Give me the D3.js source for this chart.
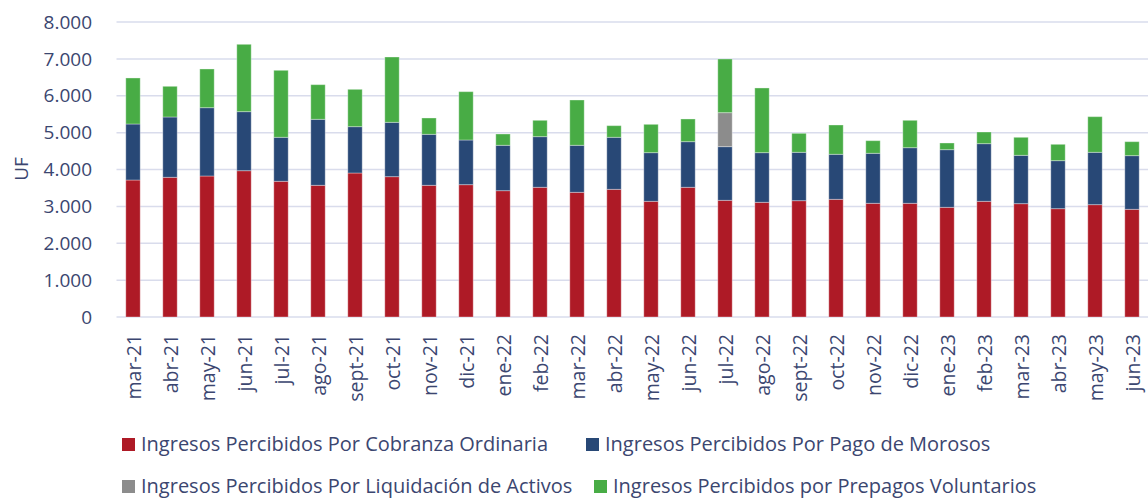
<!DOCTYPE html>
<html>
<head>
<meta charset="utf-8">
<script src="https://cdn.jsdelivr.net/npm/d3@7"></script>
<style>
  body { margin: 0; background: #fff; }
  #chart { width: 1148px; height: 499px; overflow: hidden; }
  text { font-family: "Open Sans", "Noto Sans", sans-serif; fill: #3b4670; }
</style>
</head>
<body>
<div id="chart"></div>
<script>
// Months on the x axis
const months = ['mar-21', 'abr-21', 'may-21', 'jun-21', 'jul-21', 'ago-21', 'sept-21', 'oct-21', 'nov-21', 'dic-21',
  'ene-22', 'feb-22', 'mar-22', 'abr-22', 'may-22', 'jun-22', 'jul-22', 'ago-22', 'sept-22', 'oct-22', 'nov-22', 'dic-22',
  'ene-23', 'feb-23', 'mar-23', 'abr-23', 'may-23', 'jun-23'];

// Series values (UF)
const cobranza = [3715, 3788, 3824, 3968, 3680, 3571, 3905, 3806, 3571, 3589,
  3426, 3517, 3381, 3462, 3137, 3517, 3164, 3110, 3155, 3191, 3083, 3083,
  2974, 3137, 3074, 2938, 3047, 2920];
const morosos = [1519, 1636, 1853, 1601, 1193, 1790, 1257, 1473, 1383, 1211,
  1230, 1374, 1275, 1411, 1320, 1238, 1456, 1347, 1311, 1221, 1356, 1509,
  1564, 1564, 1310, 1302, 1419, 1456];
const liquidacion = [0, 0, 0, 0, 0, 0, 0, 0, 0, 0,
  0, 0, 0, 0, 0, 0, 922, 0, 0, 0, 0, 0,
  0, 0, 0, 0, 0, 0];
const prepagos = [1248, 832, 1049, 1826, 1817, 940, 1012, 1772, 443, 1311,
  307, 443, 1229, 316, 768, 615, 1455, 1754, 515, 795, 343, 742,
  181, 316, 489, 443, 967, 379];

const yTicks = [0, 1000, 2000, 3000, 4000, 5000, 6000, 7000, 8000];

const seriesNames = [
  'Ingresos Percibidos Por Cobranza Ordinaria',
  'Ingresos Percibidos Por Pago de Morosos',
  'Ingresos Percibidos Por Liquidación de Activos',
  'Ingresos Percibidos por Prepagos Voluntarios'
];
const seriesValues = [cobranza, morosos, liquidacion, prepagos];
const colors = ['#ae1a26', '#284876', '#8c8c8c', '#48ac45'];

const width = 1148, height = 499;
const plotLeft = 114.5, plotTop = 22, plotBottom = 317;

const table = months.map((m, i) => {
  const row = { month: m };
  seriesNames.forEach((s, j) => { row[s] = seriesValues[j][i]; });
  return row;
});
const stacked = d3.stack().keys(seriesNames)(table);

const x = d3.scaleBand()
  .domain(months)
  .range([plotLeft, plotLeft + 37 * months.length])
  .paddingInner(0.61)
  .paddingOuter(0.305);
const y = d3.scaleLinear()
  .domain([0, 8000])
  .range([plotBottom, plotTop]);

const svg = d3.select('#chart').append('svg')
  .attr('width', width)
  .attr('height', height);

// Gridlines
svg.append('g')
  .selectAll('line')
  .data(yTicks)
  .join('line')
  .attr('x1', plotLeft + 2)
  .attr('x2', width)
  .attr('y1', d => y(d))
  .attr('y2', d => y(d))
  .attr('stroke', '#d9dcec')
  .attr('stroke-width', 1.5);

// Y axis labels
const fmt = d3.formatLocale({ decimal: ',', thousands: '.', grouping: [3], currency: ['', ''] }).format(',d');
svg.append('g')
  .selectAll('text')
  .data(yTicks)
  .join('text')
  .attr('x', 92)
  .attr('y', d => y(d))
  .attr('dy', '0.35em')
  .attr('text-anchor', 'end')
  .style('font-size', '19px')
  .text(d => fmt(d));

svg.append('text')
  .attr('transform', 'translate(28, 169) rotate(-90)')
  .attr('text-anchor', 'middle')
  .style('font-size', '19px')
  .text('UF');

// Bars
svg.append('g')
  .selectAll('g')
  .data(stacked)
  .join('g')
  .attr('fill', (d, i) => colors[i])
  .selectAll('rect')
  .data(d => d)
  .join('rect')
  .attr('x', d => x(d.data.month))
  .attr('width', x.bandwidth())
  .attr('y', d => y(d[1]))
  .attr('height', d => y(d[0]) - y(d[1]))
  .attr('stroke', 'rgba(255,255,255,0.35)')
  .attr('stroke-width', 1)
  .style('display', d => d[1] - d[0] > 0 ? null : 'none');

// X axis labels
svg.append('g')
  .selectAll('text')
  .data(months)
  .join('text')
  .attr('transform', d => `translate(${x(d) + x.bandwidth() / 2 + 1}, 334) rotate(-90)`)
  .attr('dy', '0.35em')
  .attr('text-anchor', 'end')
  .style('font-size', '19.5px')
  .text(d => d);

// Legend
const legendPos = [[122, 444], [586, 444], [122, 486], [594, 486]];
const legend = svg.append('g')
  .selectAll('g')
  .data(seriesNames)
  .join('g')
  .attr('transform', (d, i) => `translate(${legendPos[i][0]}, ${legendPos[i][1]})`);
legend.append('rect')
  .attr('x', 0)
  .attr('y', -6)
  .attr('width', 13)
  .attr('height', 13)
  .attr('fill', (d, i) => colors[i]);
legend.append('text')
  .attr('x', 19)
  .attr('y', 0)
  .attr('dy', '0.35em')
  .style('font-size', '20px')
  .text(d => d);
</script>
</body>
</html>
